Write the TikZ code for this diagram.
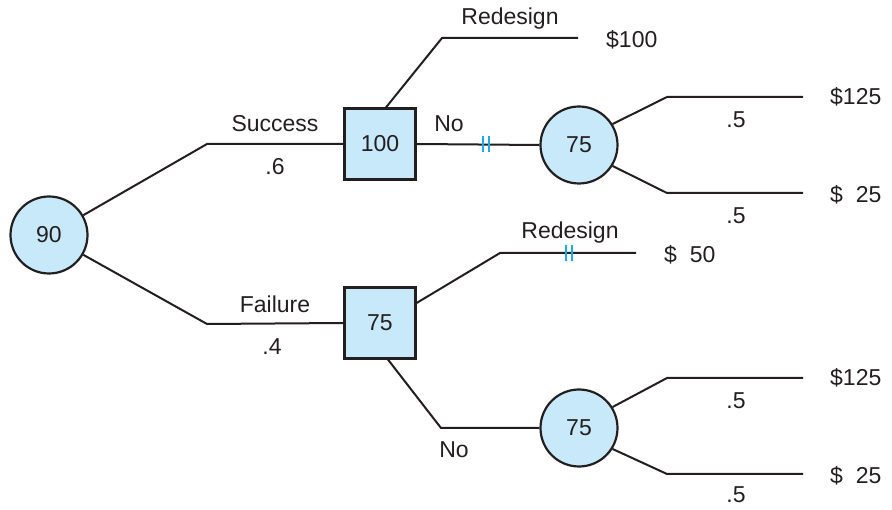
\documentclass[tikz,border=0pt]{standalone}
\usepackage{fontspec}
\setmainfont{Liberation Sans}
\definecolor{nodefill}{RGB}{199,233,250}
\definecolor{linec}{RGB}{35,31,32}
\definecolor{prunec}{RGB}{30,170,230}
\tikzset{
  every node/.style={font=\fontsize{23}{27}\selectfont, text=linec},
  chance/.style={circle, draw=linec, fill=nodefill, line width=2.2pt, minimum size=77pt, inner sep=0pt},
  decision/.style={rectangle, draw=linec, fill=nodefill, line width=2.2pt, minimum size=71pt, inner sep=0pt},
  branch/.style={draw=linec, line width=2pt},
  lbl/.style={inner sep=0pt},
  prunemark/.style={draw=prunec, line width=1.8pt},
}
\begin{document}
\begin{tikzpicture}[x=1pt,y=-1pt]
\useasboundingbox (0,0) rectangle (892,510);
% nodes
\node[chance] (c90) at (49,235) {90};
\node[decision] (d100) at (380,144) {100};
\node[decision] (d75) at (380,323) {75};
\node[chance] (c75a) at (579,145) {75};
\node[chance] (c75b) at (579,428) {75};
% coordinates
\coordinate (s1) at (207,144);
\coordinate (f1) at (207,324);
\coordinate (r1) at (442,38);
\coordinate (r1e) at (578,38);
\coordinate (ua1) at (667,97);
\coordinate (ua1e) at (803,97);
\coordinate (la1) at (667,193);
\coordinate (la1e) at (803,193);
\coordinate (r2) at (500,253);
\coordinate (r2e) at (636,253);
\coordinate (n2) at (441,428);
\coordinate (ub1) at (667,378);
\coordinate (ub1e) at (803,378);
\coordinate (lb1) at (667,474);
\coordinate (lb1e) at (803,474);
\coordinate (pm1) at (486,144);
\coordinate (pm2) at (569,253);
% connectors
\draw[branch] (c90.30) -- (s1) -- (d100.west);
\draw[branch] (c90.-30) -- (f1) -- (d75.west);
\draw[branch] ([xshift=6pt]d100.north) -- (r1) -- (r1e);
\draw[branch] (d100.east) -- (c75a.west);
\draw[branch] (c75a.32) -- (ua1) -- (ua1e);
\draw[branch] (c75a.-32) -- (la1) -- (la1e);
\draw[branch] ([yshift=20pt]d75.east) -- (r2) -- (r2e);
\draw[branch] ([xshift=8pt]d75.south) -- (n2) -- (c75b.west);
\draw[branch] (c75b.32) -- (ub1) -- (ub1e);
\draw[branch] (c75b.-32) -- (lb1) -- (lb1e);
% pruning marks
\draw[prunemark] ([xshift=-3pt]pm1) ++(0,-8) -- ++(0,16);
\draw[prunemark] ([xshift=3pt]pm1) ++(0,-8) -- ++(0,16);
\draw[prunemark] ([xshift=-3pt]pm2) ++(0,-8) -- ++(0,16);
\draw[prunemark] ([xshift=3pt]pm2) ++(0,-8) -- ++(0,16);
% labels
\node[lbl] (tsuc) at (275,124) {Success};
\node[lbl] (tp6) at (275,167) {.6};
\node[lbl] (tfail) at (275,304) {Failure};
\node[lbl] (tp4) at (272,347) {.4};
\node[lbl] (tred1) at (510,19) {Redesign};
\node[lbl,anchor=west] (v100) at (606,40) {\$100};
\node[lbl] (tno1) at (449,124) {No};
\node[lbl] (p5a) at (736,120) {.5};
\node[lbl] (p5b) at (736,216) {.5};
\node[lbl,anchor=west] (v125a) at (830,97) {\$125};
\node[lbl,anchor=west] (v25a) at (830,195) {\$\ \ 25};
\node[lbl] (tred2) at (570,233) {Redesign};
\node[lbl,anchor=west] (v50) at (664,255) {\$\ \ 50};
\node[lbl] (tno2) at (454,450) {No};
\node[lbl] (p5c) at (736,401) {.5};
\node[lbl] (p5d) at (736,495) {.5};
\node[lbl,anchor=west] (v125b) at (830,378) {\$125};
\node[lbl,anchor=west] (v25b) at (830,476) {\$\ \ 25};
\end{tikzpicture}
\end{document}
